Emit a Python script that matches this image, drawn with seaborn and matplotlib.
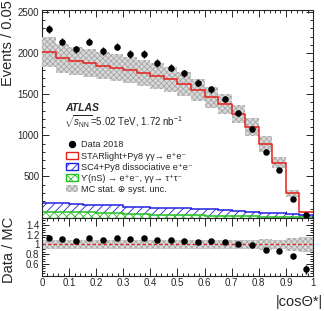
import numpy as np
import pandas as pd
import matplotlib
matplotlib.use("Agg")
import matplotlib.pyplot as plt
import seaborn as sns
from matplotlib.patches import Patch
from matplotlib.lines import Line2D
from matplotlib.ticker import MultipleLocator, FixedLocator

# -----------------------------
# Data
# -----------------------------
bin_edges = np.linspace(0.0, 1.0, 21)
bin_centers = 0.5 * (bin_edges[:-1] + bin_edges[1:])

data_2018 = [2297, 2139, 2046, 2139, 2026, 2078, 1989, 1989, 1880, 1822,
             1754, 1640, 1560, 1438, 1268, 1073, 797, 578, 221, 30]
# stacked MC: total (STARlight on top), SC4 dissociative + Upsilon, Upsilon only
mc_total = [2010, 1937, 1904, 1883, 1847, 1822, 1794, 1762, 1721, 1681,
            1624, 1551, 1462, 1381, 1259, 1097, 894, 668, 294, 63]
sc4_plus_ups = [175, 172, 162, 158, 152, 148, 128, 124, 114, 112,
                110, 102, 98, 95, 75, 70, 54, 50, 42, 36]
upsilon_tautau = [72, 70, 68, 65, 55, 52, 48, 45, 35, 32,
                  30, 26, 20, 18, 16, 14, 8, 6, 4, 2]
mc_rel_unc = [0.09, 0.09, 0.09, 0.09, 0.09, 0.09, 0.09, 0.09, 0.09, 0.09,
              0.09, 0.09, 0.09, 0.09, 0.09, 0.10, 0.11, 0.10, 0.14, 0.15]

x_ticks = [0, 0.1, 0.2, 0.3, 0.4, 0.5, 0.6, 0.7, 0.8, 0.9, 1.0]
x_tick_labels = ["0", "0.1", "0.2", "0.3", "0.4", "0.5", "0.6", "0.7", "0.8", "0.9", "1"]
y_ticks = [500, 1000, 1500, 2000, 2500]
r_ticks = [0.6, 0.8, 1.0, 1.2, 1.4]
r_tick_labels = ["0.6", "0.8", "1", "1.2", "1.4"]

data_arr = np.array(data_2018, dtype=float)
mc_arr = np.array(mc_total, dtype=float)
unc_arr = np.array(mc_rel_unc)
ratio = data_arr / mc_arr
ratio_err = np.sqrt(data_arr) / mc_arr

mc_df = pd.DataFrame({"cos": bin_centers, "events": mc_total})

# -----------------------------
# Style
# -----------------------------
sns.set_style("ticks")
plt.rcParams["font.family"] = ["Liberation Sans", "DejaVu Sans"]
plt.rcParams["mathtext.fontset"] = "custom"
plt.rcParams["mathtext.rm"] = "Liberation Sans"
plt.rcParams["mathtext.it"] = "Liberation Sans:italic"
plt.rcParams["mathtext.sf"] = "Liberation Sans"
plt.rcParams["hatch.linewidth"] = 0.6

RED = "#e8201a"
BLUE = "#2020e0"
GREEN = "#22c022"
GREY_FACE = "#dadada"
GREY_HATCH = "#a6a6a6"

fig = plt.figure(figsize=(3.24, 3.11), dpi=100)
ax = fig.add_axes([0.1296, 0.3006, 0.8364, 0.6672])
rax = fig.add_axes([0.1296, 0.1141, 0.8364, 0.1865])

# -----------------------------
# Main panel
# -----------------------------
ax.stairs(upsilon_tautau, bin_edges, baseline=0, fill=True, facecolor="white",
          edgecolor=GREEN, hatch="xxxx", linewidth=0, zorder=1)
ax.stairs(upsilon_tautau, bin_edges, color=GREEN, linewidth=1.1, zorder=2)
ax.stairs(sc4_plus_ups, bin_edges, baseline=upsilon_tautau, fill=True,
          facecolor="white", edgecolor=BLUE, hatch="////", linewidth=0, zorder=1)
ax.stairs(sc4_plus_ups, bin_edges, color=BLUE, linewidth=1.1, zorder=2)

ax.stairs(mc_arr * (1 + unc_arr), bin_edges, baseline=mc_arr * (1 - unc_arr),
          fill=True, facecolor=GREY_FACE, edgecolor=GREY_HATCH, hatch="xxxxxx",
          linewidth=0, zorder=3)

sns.histplot(data=mc_df, x="cos", weights="events", binwidth=0.05,
             binrange=(0, 1), element="step", fill=False, color=RED,
             linewidth=1.1, ax=ax, zorder=4)

ax.errorbar(bin_centers, data_arr, yerr=np.sqrt(data_arr), fmt="none",
            ecolor="black", elinewidth=1.0, zorder=5)
sns.scatterplot(x=bin_centers, y=data_2018, color="black", s=22,
                edgecolor="black", linewidth=0, ax=ax, zorder=6)

ax.set_xlim(0, 1)
ax.set_ylim(0, 2524)
ax.yaxis.set_major_locator(FixedLocator(y_ticks))
ax.yaxis.set_minor_locator(MultipleLocator(100))
ax.xaxis.set_major_locator(FixedLocator(x_ticks))
ax.xaxis.set_minor_locator(MultipleLocator(0.02))
ax.set_xticklabels([])
ax.set_yticklabels([str(v) for v in y_ticks])
ax.set_xlabel("")
ax.set_ylabel("")

ax.text(0.085, 0.526, "ATLAS", transform=ax.transAxes, fontsize=7.5,
        fontweight="bold", fontstyle="italic", va="center", ha="left")
ax.text(0.08, 0.462, r"$\sqrt{s_{\mathrm{NN}}}$=5.02 TeV, 1.72 nb$^{-1}$",
        transform=ax.transAxes, fontsize=7, va="center", ha="left")

handles = [
    Line2D([], [], marker="o", color="black", linestyle="none", markersize=4.3),
    Patch(facecolor="white", edgecolor=RED, linewidth=1.0),
    Patch(facecolor="white", edgecolor=BLUE, hatch="////", linewidth=1.0),
    Patch(facecolor="white", edgecolor=GREEN, hatch="xxxx", linewidth=1.0),
    Patch(facecolor=GREY_FACE, edgecolor=GREY_HATCH, hatch="xxxxxx", linewidth=0),
]
labels = [
    "Data 2018",
    "STARlight+Py8 \u03b3\u03b3\u2192 e\u207ae\u207b",
    "SC4+Py8 dissociative e\u207ae\u207b",
    "\u03d2(nS) \u2192 e\u207ae\u207b, \u03b3\u03b3\u2192 \u03c4\u207a\u03c4\u207b",
    "MC stat. \u2295 syst. unc.",
]
ax.legend(handles, labels, loc="upper left", bbox_to_anchor=(0.088, 0.372),
          frameon=False, fontsize=6.6, handlelength=1.3, handleheight=0.8,
          labelspacing=0.24, handletextpad=0.35, borderpad=0, borderaxespad=0)

# -----------------------------
# Ratio panel
# -----------------------------
rax.stairs(1 + unc_arr, bin_edges, baseline=1 - unc_arr, fill=True,
           facecolor=GREY_FACE, edgecolor=GREY_HATCH, hatch="xxxxxx",
           linewidth=0, zorder=1)
rax.axhline(1.0, color=RED, linestyle=(0, (3, 2)), linewidth=0.8, zorder=2)
rax.errorbar(bin_centers, ratio, yerr=ratio_err, fmt="none", ecolor="black",
             elinewidth=1.0, zorder=3)
sns.scatterplot(x=bin_centers, y=ratio, color="black", s=22, edgecolor="black",
                linewidth=0, ax=rax, zorder=4)

rax.set_xlim(0, 1)
rax.set_ylim(0.35, 1.56)
rax.xaxis.set_major_locator(FixedLocator(x_ticks))
rax.xaxis.set_minor_locator(MultipleLocator(0.02))
rax.set_xticklabels(x_tick_labels)
rax.yaxis.set_major_locator(FixedLocator(r_ticks))
rax.yaxis.set_minor_locator(MultipleLocator(0.05))
rax.set_yticklabels(r_tick_labels)
rax.set_xlabel("")
rax.set_ylabel("")

for a in (ax, rax):
    a.tick_params(which="both", direction="in", top=True, right=True,
                  labelsize=7, width=0.7, pad=2)
    a.tick_params(which="major", length=5)
    a.tick_params(which="minor", length=2.5)
    for s in a.spines.values():
        s.set_linewidth(0.8)
rax.tick_params(axis="x", which="major", length=6)

fig.text(8 / 324, 1.0, "Events / 0.05", rotation=90, ha="center", va="top",
         fontsize=10.5)
fig.text(9 / 324, 1 - 217 / 311, "Data / MC", rotation=90, ha="center",
         va="top", fontsize=10.5)
fig.text(0.995, 1 - 302 / 311, "|cos\u0398*|", ha="right", va="center",
         fontsize=10.5)

fig.savefig("out.png", dpi=100)
plt.close(fig)
